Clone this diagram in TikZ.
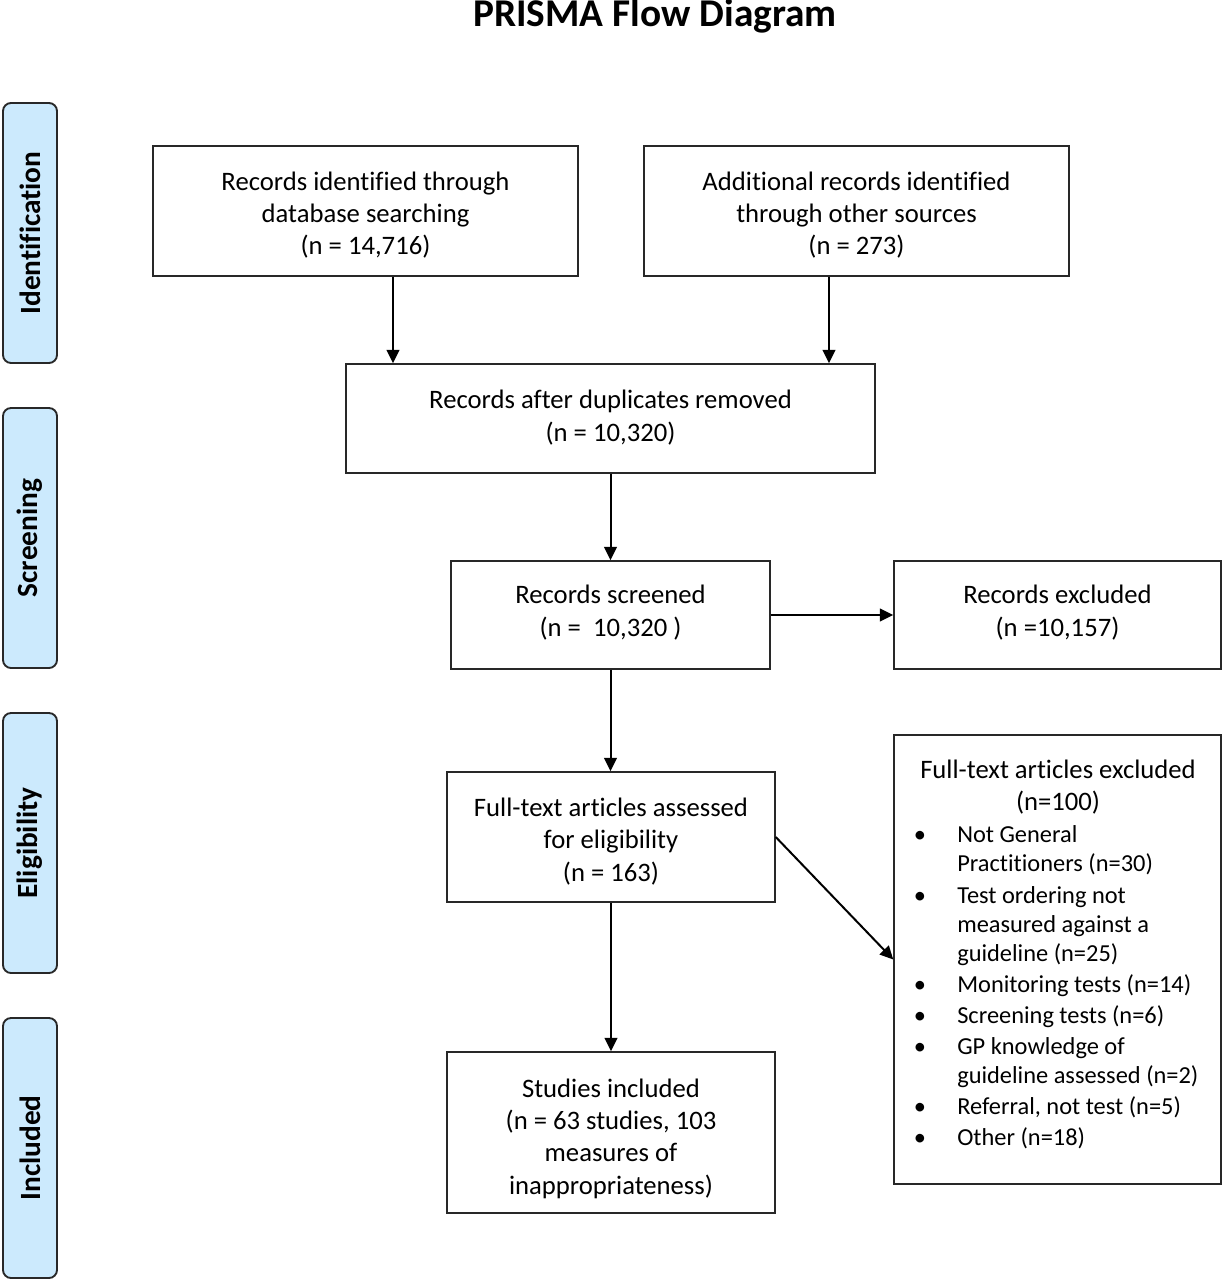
\documentclass[tikz,border=0pt]{standalone}
\usepackage{fontspec}
\setmainfont{Carlito}[Ligatures={NoCommon}]
\usetikzlibrary{arrows.meta,calc}
\definecolor{stagefill}{RGB}{204,234,253}
\definecolor{edge}{RGB}{40,40,40}
\def\pxu{0.75pt}
\begin{document}
\begin{tikzpicture}[x=0.75pt,y=-0.75pt,
  box/.style={draw=edge,line width=1.1pt,rectangle,inner sep=0pt},
  txt/.style={inner sep=0pt,align=center,font=\fontsize{20}{24.3}\selectfont},
  stage/.style={draw=edge,line width=1.4pt,fill=stagefill,rounded corners=6pt,rotate=90,
    minimum width=260*\pxu,minimum height=54*\pxu,inner sep=0pt,
    font=\fontsize{22}{26}\selectfont\bfseries},
  arr/.style={line width=1.5pt,-{Triangle[length=10pt,width=9.5pt]}},
  lst/.style={anchor=base west,inner sep=0pt,font=\fontsize{18.3}{23}\selectfont},
  bul/.style={anchor=base,inner sep=0pt,font=\fontsize{18.3}{23}\selectfont}]
\useasboundingbox (0,0) rectangle (1222,1280);
\node[anchor=base,inner sep=0pt,font=\fontsize{29.5}{34}\selectfont\bfseries] (title) at (655,27) {PRISMA Flow Diagram};
% stages
\node[stage] (s1) at (30,233) {Identification};
\node[stage] (s2) at (30,538) {Screening};
\node[stage] (s3) at (30,843) {Eligibility};
\node[stage] (s4) at (30,1148) {Included};
% boxes
\node[box,minimum width=425*\pxu,minimum height=130*\pxu] (A) at (365.5,211) {};
\node[box,minimum width=425*\pxu,minimum height=130*\pxu] (B) at (856.5,211) {};
\node[box,minimum width=529*\pxu,minimum height=109*\pxu] (C) at (610.5,418.5) {};
\node[box,minimum width=319*\pxu,minimum height=108*\pxu] (D) at (610.5,615) {};
\node[box,minimum width=327*\pxu,minimum height=108*\pxu] (E) at (1057.5,615) {};
\node[box,minimum width=328*\pxu,minimum height=130*\pxu] (F) at (611,837) {};
\node[box,minimum width=327*\pxu,minimum height=449*\pxu] (G) at (1057.5,959.5) {};
\node[box,minimum width=328*\pxu,minimum height=161*\pxu] (H) at (611,1132.5) {};
% box texts
\node[txt] (At) at (365.5,215) {Records identified through\\database searching\\(n = 14,716)};
\node[txt] (Bt) at (856.5,215) {Additional records identified\\through other sources\\(n = 273)};
\node[txt] (Ct) at (610.5,417.5) {Records after duplicates removed\\(n = 10,320)};
\node[txt] (Dt) at (610.5,612.5) {Records screened\\(n =\ \ 10,320 )};
\node[txt] (Et) at (1057.5,612.5) {Records excluded\\(n =10,157)};
\node[txt] (Ft) at (611,841.5) {Full-text articles assessed\\for eligibility\\(n = 163)};
\node[txt] (Ht) at (611,1138.5) {Studies included\\(n = 63 studies, 103\\measures of\\inappropriateness)};
% excluded list
\node[txt] (Gt) at (1058,787) {Full-text articles excluded\\(n=100)};
\foreach \i/\y/\t in {1/835/Not General,2/864/Practitioners (n=30),3/896/Test ordering not,
  4/925/measured against a,5/954/guideline (n=25),6/985/Monitoring tests (n=14),
  7/1016/Screening tests (n=6),8/1047/GP knowledge of,9/1076/guideline assessed (n=2),
  10/1107/{Referral, not test (n=5)},11/1138/Other (n=18)}
  \node[lst] (g\i) at (957,\y+7.5) {\t};
\foreach \i/\y in {1/835,3/896,6/985,7/1016,8/1047,10/1107,11/1138}
  \node[bul] (b\i) at (920,\y+7.5) {•};
% arrows
\coordinate (xa) at (393,0);
\coordinate (xb) at (829,0);
\draw[arr] (A.south -| xa) -- (C.north -| xa);
\draw[arr] (B.south -| xb) -- (C.north -| xb);
\draw[arr] (C.south) -- (D.north);
\draw[arr] (D.east) -- (E.west);
\draw[arr] (D.south) -- (D.south |- F.north);
\draw[arr] (F.south) -- (H.north);
\draw[arr] (F.east) -- (G.west);
\end{tikzpicture}
\end{document}
